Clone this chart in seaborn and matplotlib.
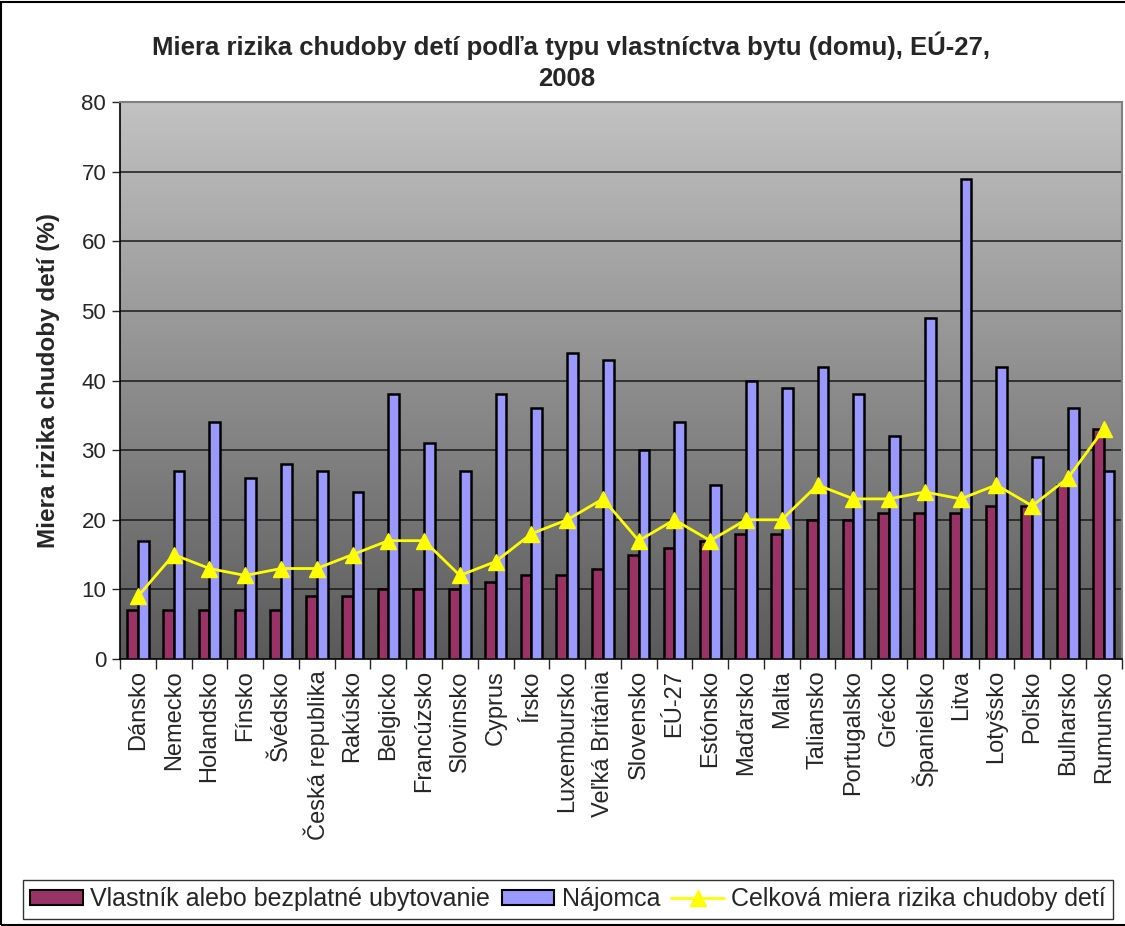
import numpy as np
import pandas as pd
import matplotlib
matplotlib.use("Agg")
import matplotlib.pyplot as plt
import seaborn as sns
from matplotlib.lines import Line2D
from matplotlib.patches import Patch, Rectangle

countries = ["Dánsko", "Nemecko", "Holandsko", "Fínsko", "Švédsko", "Česká republika",
             "Rakúsko", "Belgicko", "Francúzsko", "Slovinsko", "Cyprus", "Írsko",
             "Luxembursko", "Veľká Británia", "Slovensko", "EÚ-27", "Estónsko", "Maďarsko",
             "Malta", "Taliansko", "Portugalsko", "Grécko", "Španielsko", "Litva",
             "Lotyšsko", "Poľsko", "Bulharsko", "Rumunsko"]
owners = [7, 7, 7, 7, 7, 9, 9, 10, 10, 10, 11, 12, 12, 13, 15, 16, 17, 18, 18, 20, 20,
          21, 21, 21, 22, 22, 25, 33]
tenants = [17, 27, 34, 26, 28, 27, 24, 38, 31, 27, 38, 36, 44, 43, 30, 34, 25, 40, 39,
           42, 38, 32, 49, 69, 42, 29, 36, 27]
overall = [9, 15, 13, 12, 13, 13, 15, 17, 17, 12, 14, 18, 20, 23, 17, 20, 17, 20, 20,
           25, 23, 23, 24, 23, 25, 22, 26, 33]

s_owner = "Vlastník alebo bezplatné ubytovanie"
s_tenant = "Nájomca"
s_total = "Celková miera rizika chudoby detí"

sns.set_style("white")
plt.rcParams["font.family"] = ["Liberation Sans", "DejaVu Sans"]

df = pd.DataFrame({
    "krajina": countries * 2,
    "hodnota": owners + tenants,
    "typ": [s_owner] * len(countries) + [s_tenant] * len(countries),
})

fig = plt.figure(figsize=(11.25, 9.26), dpi=100)
ax = fig.add_axes([0.1067, 0.2883, 0.8903, 0.6015])

c_owner = "#993366"
c_tenant = "#9999FF"

sns.barplot(data=df, x="krajina", y="hodnota", hue="typ", order=countries,
            hue_order=[s_owner, s_tenant], palette=[c_owner, c_tenant],
            width=0.6, edgecolor="black", linewidth=1.8, saturation=1,
            legend=False, ax=ax, zorder=3)

x = np.arange(len(countries))
ax.plot(x, overall, color="#FFFF00", lw=2, marker="^", markersize=12,
        markeredgecolor="#FFFF00", zorder=5)

ax.set_xlim(-0.5, len(countries) - 0.5)
ax.set_ylim(0, 80)

# vertical gradient background of the plot area
grad = np.linspace(0, 1, 256).reshape(-1, 1)
cmap = matplotlib.colors.LinearSegmentedColormap.from_list("bg", ["#5a5a5a", "#c2c2c2"])
ax.imshow(grad, extent=[-0.5, len(countries) - 0.5, 0, 80], origin="lower",
          aspect="auto", cmap=cmap, zorder=0)

ax.set_yticks(range(0, 81, 10))
for yv in range(10, 80, 10):
    ax.axhline(yv, color="#1a1a1a", lw=1.1, zorder=1)

ax.tick_params(axis="y", labelsize=16, length=6, width=1, direction="out", left=True, pad=4)
ax.set_xticks(x)
ax.set_xticklabels(countries, rotation=90, fontsize=17)
ax.tick_params(axis="x", which="major", length=0, pad=8)
ax.set_xticks(np.arange(-0.5, len(countries), 1), minor=True)
ax.tick_params(axis="x", which="minor", length=7, width=1, direction="out", bottom=True)

ax.set_xlabel("")
ax.set_ylabel("Miera rizika chudoby detí (%)", fontsize=17.5, fontweight="bold", labelpad=15)

for side in ["top", "right"]:
    ax.spines[side].set_color("#808080")
    ax.spines[side].set_linewidth(1.5)
for side in ["left", "bottom"]:
    ax.spines[side].set_color("black")
    ax.spines[side].set_linewidth(1.2)

fig.text(0.508, 0.951, "Miera rizika chudoby detí podľa typu vlastníctva bytu (domu), EÚ-27,",
         ha="center", va="center", fontsize=18.5, fontweight="bold")
fig.text(0.504, 0.915, "2008", ha="center", va="center", fontsize=18.5, fontweight="bold")

handles = [
    Patch(facecolor=c_owner, edgecolor="black", linewidth=1.5, label=s_owner),
    Patch(facecolor=c_tenant, edgecolor="black", linewidth=1.5, label=s_tenant),
    Line2D([0], [0], color="#FFFF00", lw=2, marker="^", markersize=11, label=s_total),
]
leg = fig.legend(handles=handles, loc="center", bbox_to_anchor=(0.505, 0.029), ncol=3,
                 fontsize=18, frameon=True, fancybox=False, edgecolor="black",
                 handlelength=2.1, handleheight=0.55, handletextpad=0.3, columnspacing=0.45,
                 borderpad=0.3, borderaxespad=0)
leg.get_frame().set_linewidth(1.0)

# outer frame of the chart
fig.patches.append(Rectangle((0.001, 0.001), 1.2, 0.997, transform=fig.transFigure,
                             fill=False, edgecolor="black", lw=1.5))

fig.savefig("out.png", dpi=100)
